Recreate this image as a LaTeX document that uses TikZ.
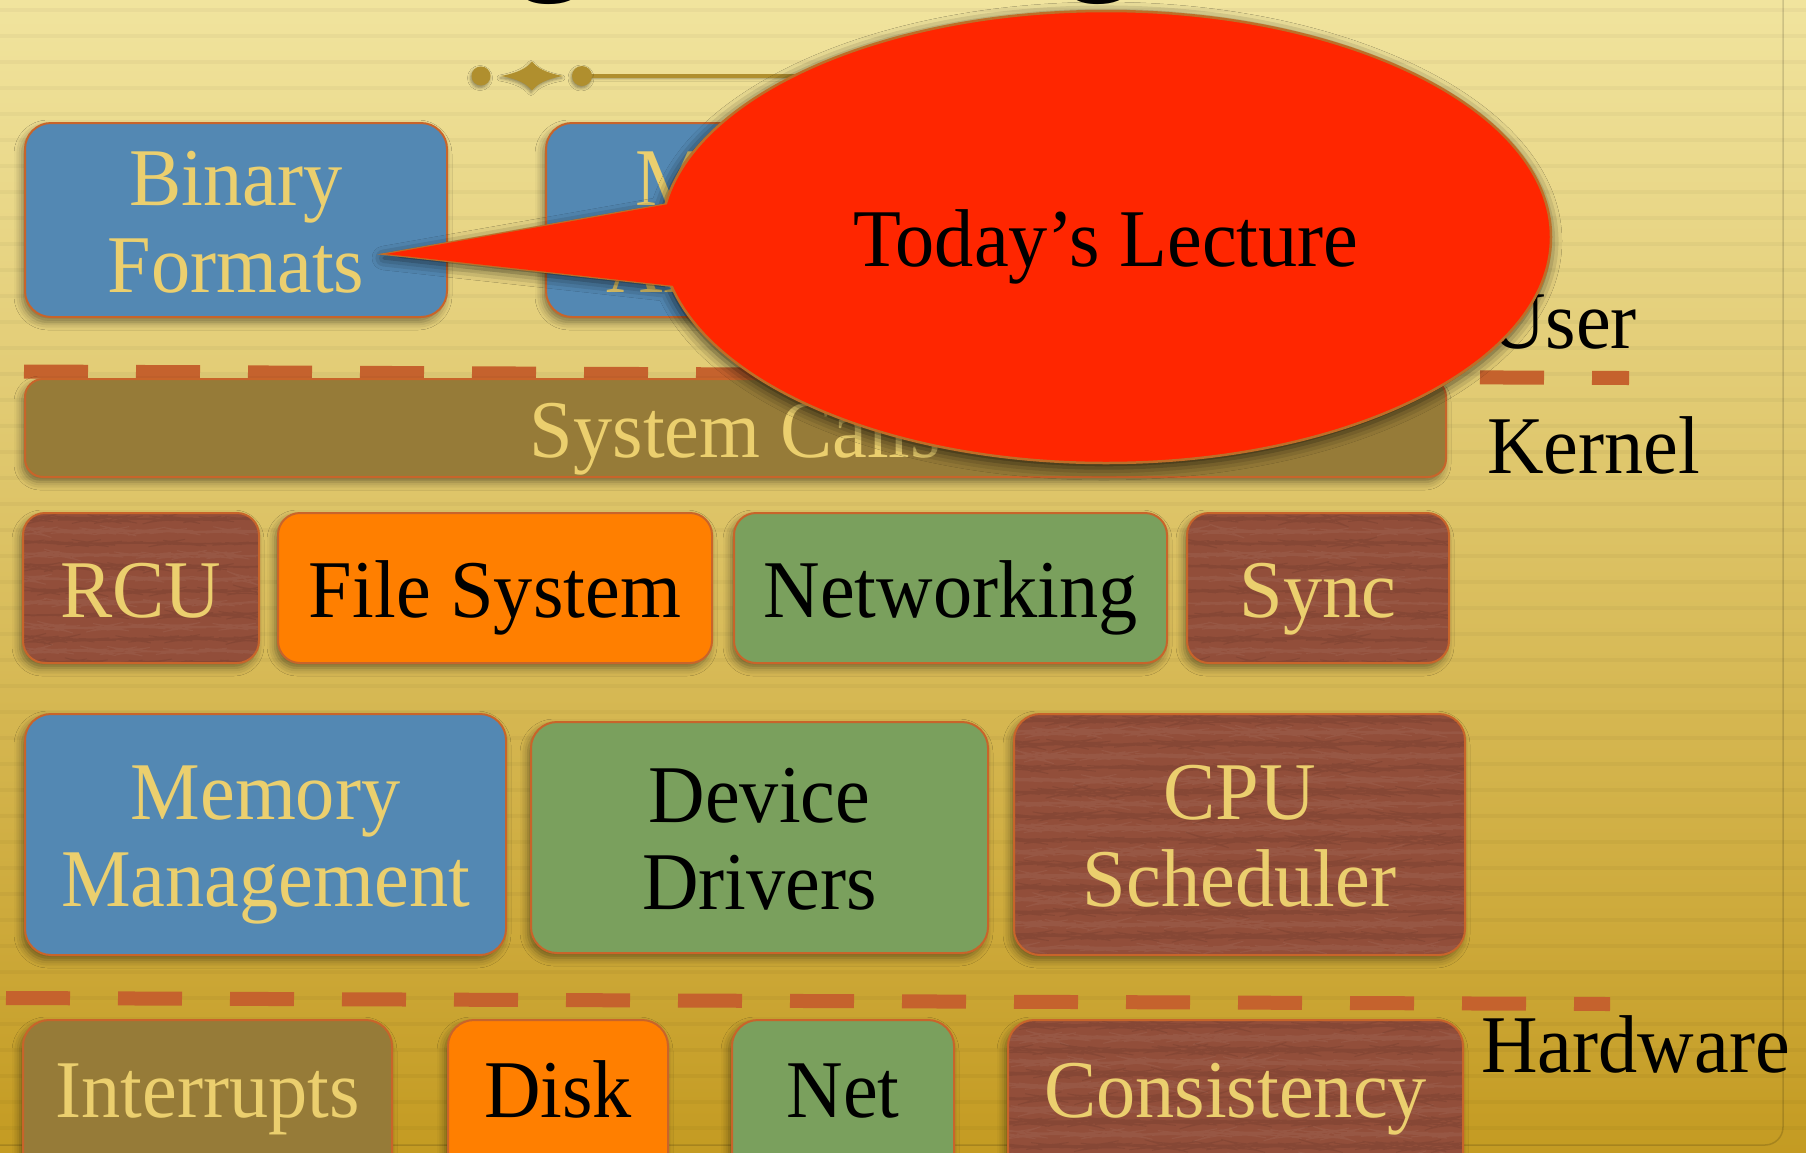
\documentclass[tikz,border=0pt]{standalone}
\usepackage{fontspec}
\setmainfont{Liberation Serif}[FakeStretch=0.955]
\usetikzlibrary{shapes.geometric,shadows.blur,decorations.pathmorphing,calc}

\definecolor{bgtop}{RGB}{241,228,158}
\definecolor{bgmid}{RGB}{220,190,100}
\definecolor{bgbot}{RGB}{196,155,34}
\definecolor{boxline}{RGB}{200,100,42}
\definecolor{dashcol}{RGB}{197,98,45}
\definecolor{blueboxfill}{RGB}{83,136,179}
\definecolor{greenboxfill}{RGB}{122,160,93}
\definecolor{orangeboxfill}{RGB}{255,127,0}
\definecolor{oliveboxfill}{RGB}{150,123,56}
\definecolor{brownboxfill}{RGB}{146,78,58}
\definecolor{paletext}{RGB}{235,207,110}
\definecolor{ornament}{RGB}{176,143,46}
\definecolor{calloutred}{RGB}{255,38,0}
\definecolor{calloutedge}{RGB}{190,110,40}

\pgfmathsetseed{42}

\begin{document}
\begin{tikzpicture}[x=1pt,y=-1pt,
  every node/.style={inner sep=0pt},
  bigtext/.style={font=\fontsize{82}{87}\selectfont},
  box/.style={bigtext, draw=boxline, line width=2pt, rounded corners=26pt,
    blur shadow={shadow xshift=-3pt,shadow yshift=-5pt,shadow blur radius=8pt,shadow opacity=45}},
  one/.style={text height=58pt, text depth=0pt},
  two/.style={align=center, text height=144pt, text depth=0pt},
  low/.style={text height=60pt, text depth=46pt},
  woodgrain/.style={path picture={
    \foreach \yy in {6,30,...,300}{
      \draw[draw=black, opacity=0.08, line width=1pt, decorate,
        decoration={random steps,segment length=7pt,amplitude=1.2pt}]
        ($(path picture bounding box.north west)+(-6pt,-\yy pt)$) --
        ($(path picture bounding box.north east)+(6pt,-\yy pt)$);
      \draw[draw=white, opacity=0.05, line width=1pt, decorate,
        decoration={random steps,segment length=7pt,amplitude=1.2pt}]
        ($(path picture bounding box.north west)+(-6pt,-\yy pt-12pt)$) --
        ($(path picture bounding box.north east)+(6pt,-\yy pt-12pt)$);
    }}},
  bluebox/.style={box, fill=blueboxfill, text=paletext},
  greenbox/.style={box, fill=greenboxfill, text=black},
  orangebox/.style={box, fill=orangeboxfill, text=black},
  olivebox/.style={box, fill=oliveboxfill, text=paletext},
  brownbox/.style={box, fill=brownboxfill, text=paletext, woodgrain},
  separator/.style={draw=dashcol, line width=14pt, dash pattern=on 64pt off 48pt},
  layerlabel/.style={bigtext, text=black, anchor=base west},
  smallshadow/.style={blur shadow={shadow xshift=-1pt,shadow yshift=-2pt,shadow blur radius=3pt,shadow opacity=40}}
]
\useasboundingbox (0,0) rectangle (1806,1152);

% paper background
\shade[top color=bgtop, middle color=bgmid, bottom color=bgbot] (0,0) rectangle (1806,1152);
\foreach \yy in {10,36,...,1150}
  \draw[black, opacity=0.03, line width=4pt] (0,\yy) -- (1806,\yy);
\draw[black, opacity=0.15, line width=1.5pt, rounded corners=18pt] (-40,-40) rectangle (1783,1145);

% slide title (sits above the visible area)
\node[anchor=base west, font=\fontsize{158}{166}\selectfont, text=black] (title) at (346,-30) {Logical Diagram};

% title ornament
\draw[ornament, line width=3.5pt, smallshadow] (582,76) -- (1000,76);
\fill[ornament, smallshadow] (481,76) circle (9.5pt);
\fill[ornament, smallshadow] (582,76) circle (10pt);
\fill[ornament, smallshadow] (501,76) .. controls (518,73) and (527,68) .. (532,61.5)
  .. controls (537,68) and (546,73) .. (563,76)
  .. controls (546,79) and (537,84) .. (532,90.5)
  .. controls (527,84) and (518,79) .. (501,76) -- cycle;

% user space
\node[bluebox, two, minimum width=422pt, minimum height=194pt] (binfmt) at (236,220) {Binary\\Formats};
\node[bluebox, two, minimum width=448pt, minimum height=194pt] (alloc) at (770,220) {Memory\\Allocators};
\node[layerlabel] (userlbl) at (1489,348) {User};

% user / kernel boundary
\coordinate (uk-start) at (24,371.5);
\coordinate (uk-end) at (1629,378);
\draw[separator] (uk-start) -- (uk-end);

% kernel
\node[olivebox, one, rounded corners=18pt, minimum width=1421pt, minimum height=98pt] (syscalls) at (735.5,428) {System Calls};
\node[layerlabel] (kernlbl) at (1487,473) {Kernel};

\node[brownbox, one, rounded corners=22pt, minimum width=236pt, minimum height=150pt] (rcu) at (141,588) {RCU};
\node[orangebox, one, rounded corners=22pt, minimum width=434pt, minimum height=150pt] (fs) at (495,588) {File System};
\node[greenbox, one, rounded corners=22pt, minimum width=433pt, minimum height=150pt] (netw) at (950.5,588) {Networking};
\node[brownbox, one, rounded corners=22pt, minimum width=262pt, minimum height=150pt] (sync) at (1318,588) {Sync};

\node[bluebox, two, minimum width=481pt, minimum height=241pt] (mm) at (265.5,834.5) {Memory\\Management};
\node[greenbox, two, minimum width=457pt, minimum height=231pt] (drivers) at (759.5,837.5) {Device\\Drivers};
\node[brownbox, two, minimum width=451pt, minimum height=241pt] (sched) at (1239.5,834.5) {CPU\\Scheduler};

% kernel / hardware boundary
\coordinate (kh-start) at (6,998);
\coordinate (kh-end) at (1610,1004);
\draw[separator] (kh-start) -- (kh-end);

% hardware
\node[olivebox, low, minimum width=369pt, minimum height=180pt] (intr) at (207.5,1110) {Interrupts};
\node[orangebox, low, minimum width=220pt, minimum height=180pt] (disk) at (558,1110) {Disk};
\node[greenbox, low, minimum width=222pt, minimum height=180pt] (nic) at (843,1110) {Net};
\node[brownbox, low, minimum width=455pt, minimum height=180pt] (consist) at (1235.5,1110) {Consistency};
\node[layerlabel] (hwlbl) at (1481,1072) {Hardware};

% speech bubble pointing at the binary formats box
\coordinate (tip) at (386,254);
\coordinate (tailtop) at (720,195);
\coordinate (tailbot) at (720,291);
\path[blur shadow={shadow xshift=-2pt,shadow yshift=-4pt,shadow blur radius=12pt,shadow opacity=70}]
  (1106,237) ellipse [x radius=446pt, y radius=227pt] (tip) -- (tailtop) -- (tailbot) -- cycle;
\draw[calloutedge, line width=2.5pt] (tailtop) -- (tip) -- (tailbot);
\node[ellipse, bigtext, one, fill=calloutred, draw=calloutedge, line width=2.5pt,
  minimum width=890pt, minimum height=452pt] (callout) at (1106,237) {Today’s Lecture};
\fill[calloutred] (tip) -- (tailtop) -- (tailbot) -- cycle;

\end{tikzpicture}
\end{document}
